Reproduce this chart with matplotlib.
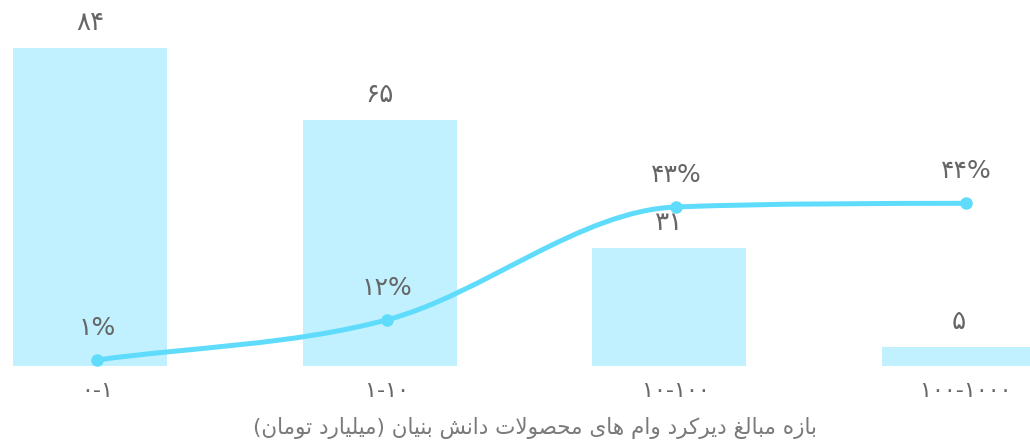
import numpy as np
import matplotlib
matplotlib.use("Agg")
import matplotlib.pyplot as plt
from matplotlib.path import Path
from matplotlib.patches import PathPatch

# data
categories = ["۰-۱", "۱-۱۰", "۱۰-۱۰۰", "۱۰۰-۱۰۰۰"]
counts = [84, 65, 31, 5]
shares = [1, 12, 43, 44]
x_title = "بازه مبالغ دیرکرد وام های محصولات دانش بنیان (میلیارد تومان)"

BAR_COLOR = "#c1f1fe"
LINE_COLOR = "#5fdcfc"
TEXT_COLOR = "#666666"

FA_DIGITS = str.maketrans("0123456789", "۰۱۲۳۴۵۶۷۸۹")


def to_fa(n):
    return str(n).translate(FA_DIGITS)


# minimal arabic/persian shaping (matplotlib has no text shaping)
# forms: isolated, final, initial, medial (None -> joins only on right side)
FORMS = {
    "ا": ("\uFE8D", "\uFE8E", None, None),
    "ب": ("\uFE8F", "\uFE90", "\uFE91", "\uFE92"),
    "ت": ("\uFE95", "\uFE96", "\uFE97", "\uFE98"),
    "ح": ("\uFEA1", "\uFEA2", "\uFEA3", "\uFEA4"),
    "د": ("\uFEA9", "\uFEAA", None, None),
    "ر": ("\uFEAD", "\uFEAE", None, None),
    "ز": ("\uFEAF", "\uFEB0", None, None),
    "ش": ("\uFEB5", "\uFEB6", "\uFEB7", "\uFEB8"),
    "ص": ("\uFEB9", "\uFEBA", "\uFEBB", "\uFEBC"),
    "غ": ("\uFECD", "\uFECE", "\uFECF", "\uFED0"),
    "ل": ("\uFEDD", "\uFEDE", "\uFEDF", "\uFEE0"),
    "م": ("\uFEE1", "\uFEE2", "\uFEE3", "\uFEE4"),
    "ن": ("\uFEE5", "\uFEE6", "\uFEE7", "\uFEE8"),
    "ه": ("\uFEE9", "\uFEEA", "\uFEEB", "\uFEEC"),
    "و": ("\uFEED", "\uFEEE", None, None),
    "ی": ("\uFBFC", "\uFBFD", "\uFBFE", "\uFBFF"),
    "ک": ("\uFB8E", "\uFB8F", "\uFB90", "\uFB91"),
}
MIRROR = {"(": ")", ")": "("}


def shape_fa(text):
    out = []
    chars = list(text)
    i = 0
    while i < len(chars):
        c = chars[i]
        if c not in FORMS:
            out.append(MIRROR.get(c, c))
            i += 1
            continue
        prev = chars[i - 1] if i > 0 else None
        joins_prev = prev in FORMS and FORMS[prev][2] is not None
        # lam-alef ligature
        if c == "ل" and i + 1 < len(chars) and chars[i + 1] == "ا":
            out.append("\uFEFC" if joins_prev else "\uFEFB")
            i += 2
            continue
        nxt = chars[i + 1] if i + 1 < len(chars) else None
        joins_next = FORMS[c][2] is not None and nxt in FORMS
        iso, fin, ini, med = FORMS[c]
        if joins_prev and joins_next:
            out.append(med)
        elif joins_prev:
            out.append(fin)
        elif joins_next:
            out.append(ini)
        else:
            out.append(iso)
        i += 1
    return "".join(reversed(out))


def monotone_path(xs, ys):
    xs = np.asarray(xs, float)
    ys = np.asarray(ys, float)
    d = np.diff(ys) / np.diff(xs)
    m = np.zeros(len(xs))
    m[0], m[-1] = d[0], d[-1]
    for k in range(1, len(xs) - 1):
        if d[k - 1] * d[k] > 0:
            m[k] = (d[k - 1] + d[k]) / 2
    for k in range(len(d)):
        a, b = m[k] / d[k], m[k + 1] / d[k]
        s = a * a + b * b
        if s > 9:
            t = 3 / np.sqrt(s)
            m[k] = t * a * d[k]
            m[k + 1] = t * b * d[k]
    verts = [(xs[0], ys[0])]
    codes = [Path.MOVETO]
    for k in range(len(d)):
        h = xs[k + 1] - xs[k]
        verts += [(xs[k] + h / 3, ys[k] + m[k] * h / 3),
                  (xs[k + 1] - h / 3, ys[k + 1] - m[k + 1] * h / 3),
                  (xs[k + 1], ys[k + 1])]
        codes += [Path.CURVE4] * 3
    return Path(verts, codes)


plt.rcParams["font.family"] = ["DejaVu Sans"]

fig = plt.figure(figsize=(10.30, 4.41), dpi=100)
ax = fig.add_axes([0, 0.1708, 1, 0.8292])
ax2 = ax.twinx()

x = np.arange(len(categories))
ax.bar(x - 0.024, counts, width=0.532, color=BAR_COLOR, zorder=1)
ax.set_xlim(-0.335, 3.221)
ax.set_ylim(0, 96.7)
ax2.set_ylim(-0.56, 99.8)

ax2.add_patch(PathPatch(monotone_path(x, shares), fill=False,
                        edgecolor=LINE_COLOR, lw=3.6, capstyle="round", zorder=3))
ax2.plot(x, shares, "o", color=LINE_COLOR, ms=8, zorder=4)

for xi, v in zip(x, counts):
    ax.annotate(to_fa(v), (xi - 0.024, v), xytext=(0, 18), textcoords="offset points",
                ha="center", va="center", fontsize=19, color=TEXT_COLOR)
for xi, v in zip(x, shares):
    ax2.annotate(to_fa(v) + "%", (xi, v), xytext=(0, 23), textcoords="offset points",
                 ha="center", va="center", fontsize=18, color=TEXT_COLOR, zorder=5)

ax.set_xticks(x, categories, fontsize=16, color=TEXT_COLOR)
ax.tick_params(axis="x", length=0, pad=11)
ax.set_yticks([])
ax2.set_yticks([])
for a in (ax, ax2):
    for s in a.spines.values():
        s.set_visible(False)

fig.text(535 / 1030, 1 - 428 / 441, shape_fa(x_title), ha="center", va="center",
         fontsize=15.5, color="#7a7a7a")

fig.savefig("out.png", dpi=100)
